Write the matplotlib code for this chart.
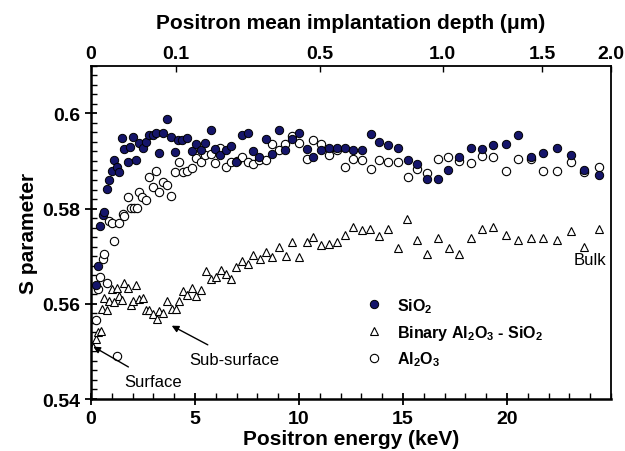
import matplotlib
matplotlib.use("Agg")
import matplotlib.pyplot as plt
from matplotlib.ticker import MultipleLocator, FixedLocator

plt.rcParams['font.family'] = ['Liberation Sans', 'DejaVu Sans']
plt.rcParams['mathtext.fontset'] = 'custom'
plt.rcParams['mathtext.rm'] = 'Liberation Sans:bold'
plt.rcParams['mathtext.default'] = 'rm'

# ---- data ----
sio2_E = [0.24, 0.35, 0.43, 0.56, 0.64, 0.75, 0.88, 0.99, 1.12, 1.23, 1.36, 1.48, 1.60, 1.76, 1.88,
          2.03, 2.16, 2.32, 2.48, 2.63, 2.79, 2.97, 3.13, 3.28, 3.48, 3.67, 3.83, 4.04, 4.20, 4.39,
          4.63, 4.84, 5.05, 5.27, 5.48, 5.75, 5.96, 6.20, 6.48, 6.73, 6.97, 7.25, 7.53, 7.80, 8.10,
          8.41, 8.72, 9.04, 9.33, 9.65, 10.01, 10.37, 10.69, 11.06, 11.44, 11.84, 12.21, 12.61, 13.01,
          13.45, 13.86, 14.29, 14.74, 15.23, 15.69, 16.14, 16.67, 17.18, 17.69, 18.25, 18.78, 19.34,
          19.94, 20.51, 21.14, 21.75, 22.39, 23.06, 23.70, 24.42]
sio2_S = [0.5639, 0.5680, 0.5764, 0.5786, 0.5792, 0.5841, 0.5860, 0.5879, 0.5902, 0.5888, 0.5876,
          0.5949, 0.5926, 0.5898, 0.5930, 0.5950, 0.5902, 0.5937, 0.5928, 0.5939, 0.5954, 0.5954,
          0.5958, 0.5916, 0.5958, 0.5988, 0.5951, 0.5919, 0.5944, 0.5944, 0.5949, 0.5921, 0.5935,
          0.5922, 0.5937, 0.5965, 0.5925, 0.5912, 0.5923, 0.5932, 0.5898, 0.5954, 0.5958, 0.5920,
          0.5908, 0.5946, 0.5914, 0.5965, 0.5924, 0.5947, 0.5959, 0.5926, 0.5909, 0.5922, 0.5928,
          0.5928, 0.5928, 0.5922, 0.5923, 0.5956, 0.5940, 0.5933, 0.5928, 0.5902, 0.5893, 0.5862,
          0.5862, 0.5881, 0.5908, 0.5928, 0.5926, 0.5934, 0.5935, 0.5955, 0.5909, 0.5917, 0.5928,
          0.5913, 0.5881, 0.5871]

binary_E = [0.10, 0.24, 0.35, 0.47, 0.54, 0.63, 0.75, 0.88, 0.99, 1.12, 1.23, 1.36, 1.48, 1.60, 1.76,
            1.91, 2.03, 2.16, 2.32, 2.48, 2.63, 2.80, 2.97, 3.16, 3.28, 3.48, 3.67, 3.88, 4.07, 4.23,
            4.44, 4.63, 4.84, 5.05, 5.27, 5.51, 5.75, 5.99, 6.23, 6.48, 6.73, 6.97, 7.25, 7.53, 7.80,
            8.13, 8.41, 8.72, 9.04, 9.36, 9.68, 10.01, 10.37, 10.69, 11.06, 11.44, 11.84, 12.21,
            12.61, 13.01, 13.41, 13.86, 14.26, 14.74, 15.21, 15.69, 16.14, 16.70, 17.21, 17.71, 18.25,
            18.78, 19.34, 19.94, 20.51, 21.14, 21.75, 22.39, 23.06, 23.70, 24.42]
binary_S = [0.5510, 0.5526, 0.5540, 0.5543, 0.5589, 0.5612, 0.5587, 0.5605, 0.5631, 0.5604, 0.5634,
            0.5617, 0.5608, 0.5643, 0.5634, 0.5597, 0.5606, 0.5639, 0.5611, 0.5612, 0.5587, 0.5587,
            0.5578, 0.5569, 0.5585, 0.5581, 0.5606, 0.5589, 0.5590, 0.5606, 0.5627, 0.5618, 0.5634,
            0.5617, 0.5630, 0.5669, 0.5652, 0.5657, 0.5671, 0.5662, 0.5652, 0.5678, 0.5689, 0.5683,
            0.5702, 0.5695, 0.5708, 0.5698, 0.5719, 0.5701, 0.5729, 0.5698, 0.5729, 0.5741, 0.5723,
            0.5725, 0.5729, 0.5744, 0.5762, 0.5755, 0.5758, 0.5743, 0.5757, 0.5717, 0.5779, 0.5735,
            0.5705, 0.5739, 0.5717, 0.5705, 0.5739, 0.5757, 0.5762, 0.5744, 0.5735, 0.5739, 0.5739,
            0.5735, 0.5753, 0.5720, 0.5758]

al2o3_E = [0.23, 0.32, 0.43, 0.56, 0.64, 0.75, 0.88, 1.02, 1.12, 1.23, 1.36, 1.52, 1.60, 1.76, 1.92,
           2.07, 2.20, 2.32, 2.44, 2.63, 2.79, 2.97, 3.13, 3.28, 3.48, 3.67, 3.83, 4.04, 4.23, 4.44,
           4.63, 4.84, 5.05, 5.27, 5.48, 5.75, 5.96, 6.20, 6.48, 6.73, 7.00, 7.25, 7.53, 7.80, 8.09,
           8.41, 8.72, 9.04, 9.33, 9.65, 10.01, 10.37, 10.69, 11.06, 11.44, 11.84, 12.21, 12.61,
           13.01, 13.45, 13.86, 14.29, 14.74, 15.23, 15.69, 16.14, 16.67, 17.18, 17.69, 18.25, 18.78,
           19.34, 19.94, 20.51, 21.14, 21.75, 22.39, 23.06, 23.70, 24.42]
al2o3_S = [0.5566, 0.5631, 0.5657, 0.5695, 0.5704, 0.5643, 0.5773, 0.5769, 0.5732, 0.5491, 0.5769,
           0.5788, 0.5785, 0.5825, 0.5801, 0.5801, 0.5802, 0.5835, 0.5824, 0.5818, 0.5867, 0.5845,
           0.5879, 0.5834, 0.5855, 0.5850, 0.5827, 0.5877, 0.5898, 0.5877, 0.5879, 0.5885, 0.5907,
           0.5897, 0.5912, 0.5914, 0.5895, 0.5928, 0.5888, 0.5898, 0.5900, 0.5909, 0.5898, 0.5893,
           0.5902, 0.5901, 0.5936, 0.5924, 0.5936, 0.5952, 0.5938, 0.5905, 0.5943, 0.5936, 0.5913,
           0.5922, 0.5887, 0.5905, 0.5901, 0.5884, 0.5903, 0.5897, 0.5897, 0.5866, 0.5884, 0.5874,
           0.5905, 0.5908, 0.5899, 0.5896, 0.5911, 0.5909, 0.5879, 0.5905, 0.5904, 0.5878, 0.5879,
           0.5898, 0.5876, 0.5888]

depth_labels = ['0', '0.1', '0.5', '1.0', '1.5', '2.0']
depth_tick_energy = [0.0, 4.07, 11.0, 16.9, 21.7, 25.0]

series_labels = ['SiO$_2$', 'Binary Al$_2$O$_3$ - SiO$_2$', 'Al$_2$O$_3$']

# ---- figure ----
fig = plt.figure(figsize=(6.25, 4.52), dpi=100)
ax = fig.add_axes([0.1456, 0.115, 0.832, 0.7374])

ms = 6.0
h1, = ax.plot(sio2_E, sio2_S, 'o', ms=ms, mfc='#15156a', mec='black', mew=0.7, ls='none', zorder=3)
h2, = ax.plot(binary_E, binary_S, '^', ms=ms, mfc='white', mec='black', mew=0.8, ls='none', zorder=2)
h3, = ax.plot(al2o3_E, al2o3_S, 'o', ms=ms, mfc='white', mec='black', mew=0.8, ls='none', zorder=2)

ax.set_xlim(0, 25)
ax.set_ylim(0.54, 0.61)

ax.xaxis.set_major_locator(FixedLocator([0, 5, 10, 15, 20]))
ax.xaxis.set_minor_locator(MultipleLocator(1))
ax.yaxis.set_major_locator(FixedLocator([0.54, 0.56, 0.58, 0.60]))
ax.yaxis.set_minor_locator(MultipleLocator(0.002))
ax.set_yticklabels(['0.54', '0.56', '0.58', '0.6'])
ax.set_xticklabels(['0', '5', '10', '15', '20'])

ax.tick_params(axis='both', which='major', direction='inout', length=9, width=1.3,
               labelsize=14, top=False, right=False)
ax.tick_params(axis='both', which='minor', direction='in', length=4, width=1.0,
               top=False, right=False)
for lab in ax.get_xticklabels() + ax.get_yticklabels():
    lab.set_fontweight('bold')

for s in ['left', 'bottom']:
    ax.spines[s].set_linewidth(1.8)
for s in ['top', 'right']:
    ax.spines[s].set_linewidth(1.3)

ax.set_xlabel('Positron energy (keV)', fontsize=15, fontweight='bold', labelpad=1)
ax.set_ylabel('S parameter', fontsize=15, fontweight='bold', labelpad=3)

ax2 = ax.twiny()
ax2.set_xlim(ax.get_xlim())
ax2.set_xticks(depth_tick_energy)
ax2.set_xticklabels(depth_labels, fontsize=14, fontweight='bold')
ax2.tick_params(axis='x', direction='in', length=4, width=1.0, pad=3)
ax2.set_xlabel('Positron mean implantation depth (\u03bcm)', fontsize=15, fontweight='bold', labelpad=12)
for s in ax2.spines.values():
    s.set_visible(False)

leg = ax.legend([h1, h2, h3], series_labels, loc='upper left', bbox_to_anchor=(0.514, 0.333),
                frameon=False, borderpad=0, handlelength=1.0, handletextpad=0.9,
                labelspacing=0.5, prop={'size': 11.5, 'weight': 'bold'})

ax.annotate('Surface', xy=(0.11, 0.5510), xytext=(3.0, 0.5437), fontsize=12,
            ha='center', va='center',
            arrowprops=dict(arrowstyle='-|>', color='black', lw=1.0, shrinkA=6, shrinkB=0,
                            mutation_scale=10))
ax.annotate('Sub-surface', xy=(3.88, 0.5554), xytext=(6.9, 0.5484), fontsize=12,
            ha='center', va='center',
            arrowprops=dict(arrowstyle='-|>', color='black', lw=1.0, shrinkA=6, shrinkB=0,
                            mutation_scale=10))
ax.text(24.0, 0.5692, 'Bulk', fontsize=12, ha='center', va='center')

fig.savefig('out.png', dpi=100)
